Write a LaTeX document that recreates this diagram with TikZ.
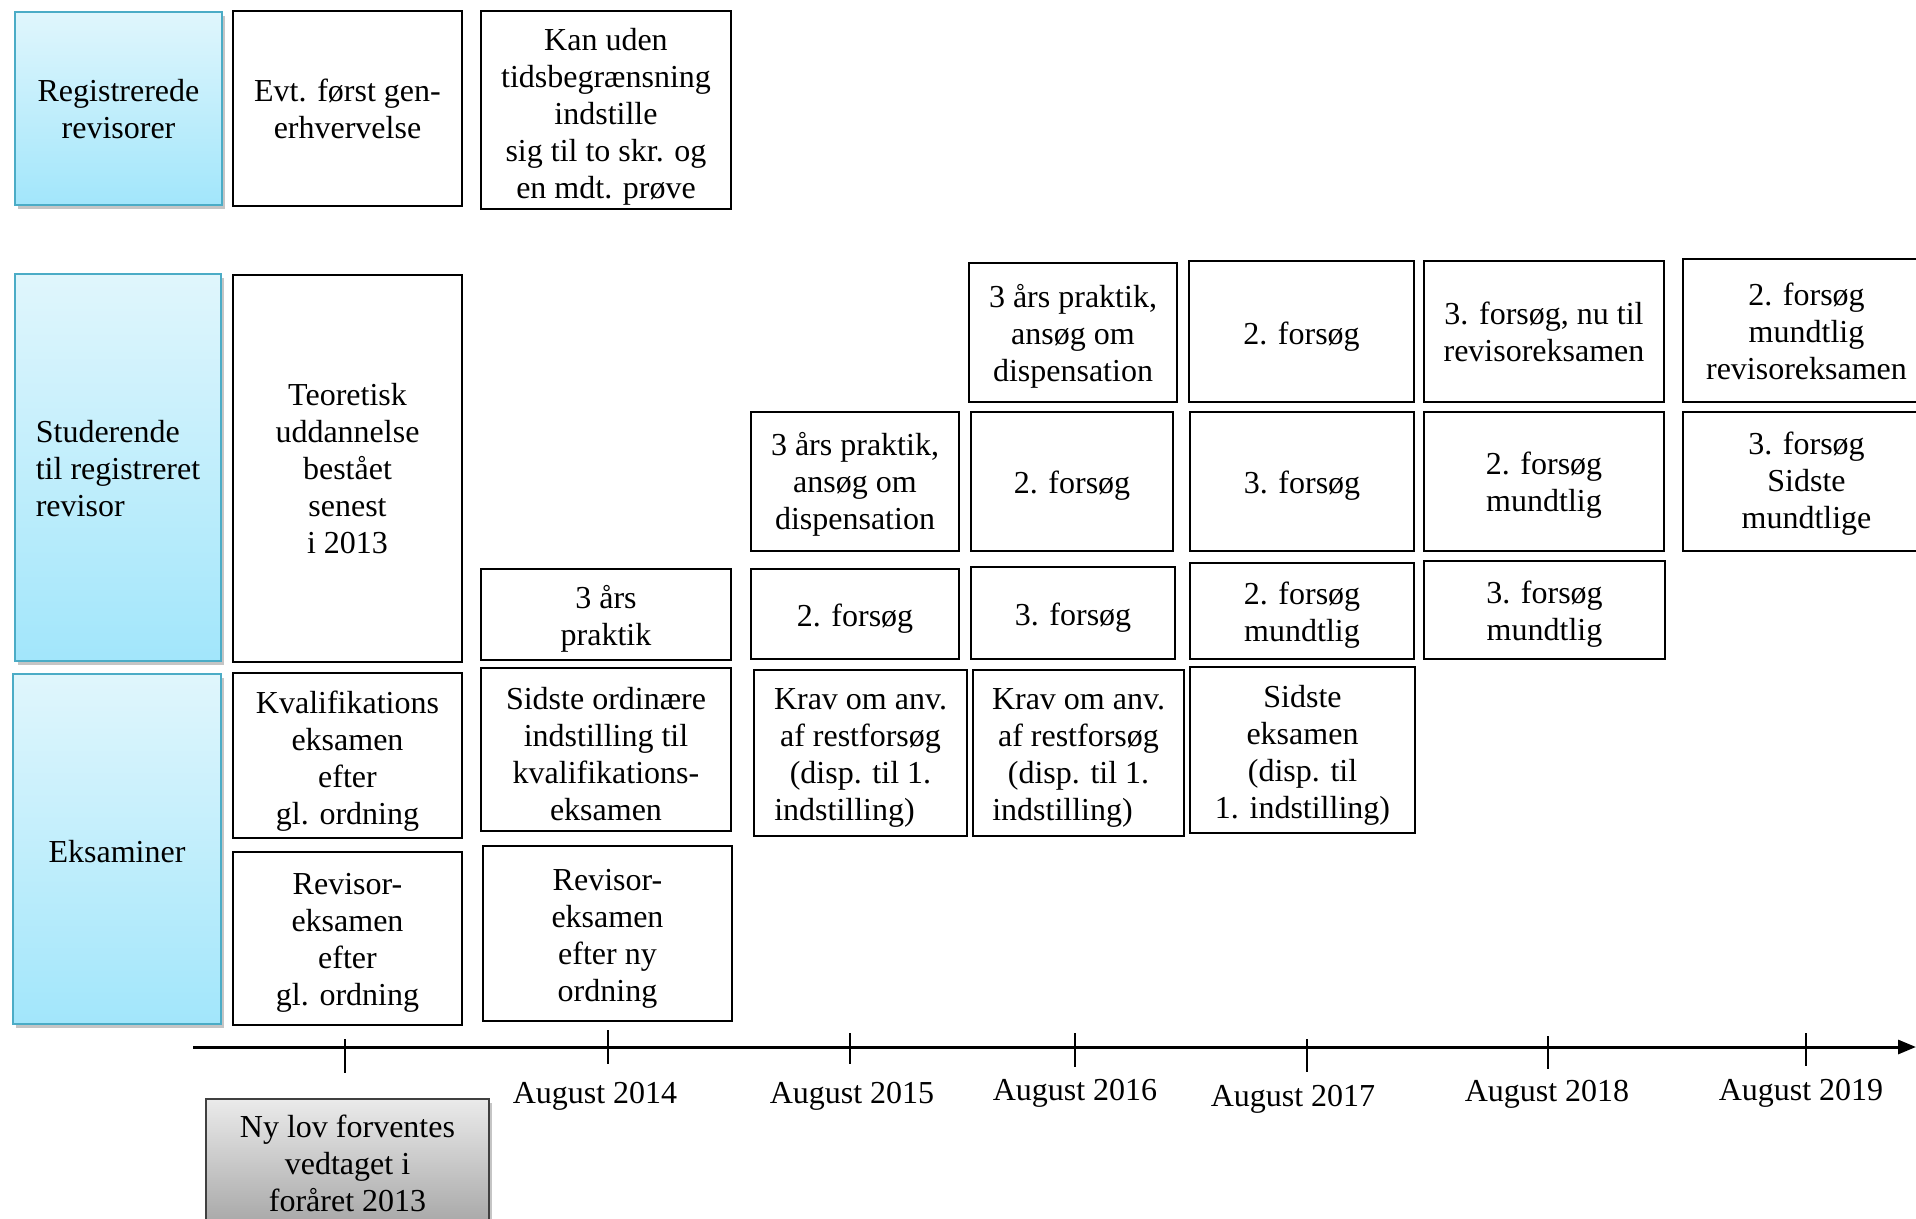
\documentclass[tikz,border=0pt]{standalone}
\usepackage{fontspec}
\setmainfont{Liberation Serif}
\usetikzlibrary{arrows.meta,shadows}
\definecolor{bluetop}{HTML}{E0F6FC}
\definecolor{bluebot}{HTML}{A2E6FB}
\definecolor{blueedge}{HTML}{4BACC6}
% #1 extra box style, #2 text shift (px, downwards), #3 name, #4-#7 corners, #8 text
\NewDocumentCommand\mybox{O{} O{4} m m m m m m}{%
  \node[box,#1, minimum width={(#6-#4)*0.5pt}, minimum height={(#7-#5)*0.5pt}] (#3) at ({(#4+#6)/2},{(#5+#7)/2}) {};
  \node[boxtext] (#3-t) at ({(#4+#6)/2},{(#5+#7)/2+#2}) {#8};}
\begin{document}
\begin{tikzpicture}[x=0.5pt,y=-0.5pt,
  box/.style={draw=black, line width=1.2pt, inner sep=0pt, fill=white},
  boxtext/.style={align=center, inner sep=0pt, font=\fontsize{16}{18.5}\selectfont},
  rowlabel/.style={draw=blueedge, line width=1pt, top color=bluetop, bottom color=bluebot,
    drop shadow={shadow xshift=1.5pt, shadow yshift=-2pt, fill=black!45, opacity=0.5}},
  greybox/.style={draw=black!75, line width=0.8pt, top color=black!8, bottom color=black!35,
    drop shadow={shadow xshift=1.5pt, shadow yshift=-2pt, fill=black!45, opacity=0.5}},
  tick/.style={line width=0.9pt},
  datelbl/.style={font=\fontsize{16}{18.5}\selectfont, inner sep=0pt}]
\useasboundingbox (0,0) rectangle (1916,1219);
% row labels
\mybox[rowlabel][1]{reg}{15}{12}{222}{205}{Registrerede\\revisorer}
\mybox[rowlabel][5]{stud}{15}{274}{221}{661}{\begin{tabular}{@{}l@{}}Studerende\\til registreret\\revisor\end{tabular}}
\mybox[rowlabel][2.5]{eks}{13}{674}{221}{1024}{Eksaminer}
% column 1
\mybox[][0]{c1a}{233}{11}{462}{206}{Evt. først gen-\\erhvervelse}
\mybox[][0]{c1b}{233}{275}{462}{662}{Teoretisk\\uddannelse\\bestået\\senest\\i 2013}
\mybox[][6]{c1c}{233}{673}{462}{838}{Kvalifikations\\eksamen\\efter\\gl. ordning}
\mybox{c1d}{233}{852}{462}{1025}{Revisor-\\eksamen\\efter\\gl. ordning}
% column 2
\mybox[][7]{c2a}{481}{11}{731}{209}{Kan uden\\tidsbegrænsning\\indstille\\sig til to skr. og\\en mdt. prøve}
\mybox{c2b}{481}{569}{731}{660}{3 års\\praktik}
\mybox[][5]{c2c}{481}{668}{731}{831}{Sidste ordinære\\indstilling til\\kvalifikations-\\eksamen}
\mybox[][5]{c2d}{483}{846}{732}{1021}{Revisor-\\eksamen\\efter ny\\ordning}
% column 3
\mybox[][2.5]{c3a}{751}{412}{959}{551}{3 års praktik,\\ansøg om\\dispensation}
\mybox[][5]{c3b}{751}{569}{959}{659}{2. forsøg}
\mybox[][5]{c3c}{754}{670}{967}{836}{Krav om anv.\\af restforsøg\\(disp. til 1.\\indstilling)\hspace*{1em}}
% column 4
\mybox{c4a}{969}{263}{1177}{402}{3 års praktik,\\ansøg om\\dispensation}
\mybox{c4b}{971}{412}{1173}{551}{2. forsøg}
\mybox[][5]{c4c}{971}{567}{1175}{659}{3. forsøg}
\mybox[][5]{c4d}{973}{670}{1184}{836}{Krav om anv.\\af restforsøg\\(disp. til 1.\\indstilling)\hspace*{1em}}
% column 5
\mybox[][5]{c5a}{1189}{261}{1414}{402}{2. forsøg}
\mybox{c5b}{1190}{412}{1414}{551}{3. forsøg}
\mybox{c5c}{1190}{563}{1414}{659}{2. forsøg\\mundtlig}
\mybox[][5]{c5d}{1190}{667}{1415}{833}{Sidste\\eksamen\\(disp. til\\1. indstilling)}
% column 6
\mybox[][0]{c6a}{1424}{261}{1664}{402}{3. forsøg, nu til\\revisoreksamen}
\mybox{c6b}{1424}{412}{1664}{551}{2. forsøg\\mundtlig}
\mybox{c6c}{1424}{561}{1665}{659}{3. forsøg\\mundtlig}
% column 7
\mybox[][1]{c7a}{1683}{259}{1930}{402}{2. forsøg\\mundtlig\\revisoreksamen}
\mybox[][2.5]{c7b}{1683}{412}{1930}{551}{3. forsøg\\Sidste\\mundtlige}
% note box
\mybox[greybox][0]{nylov}{206}{1099}{489}{1228}{Ny lov forventes\\vedtaget i\\foråret 2013}
% timeline
\coordinate (tstart) at (193,1047);
\coordinate (tend) at (1916,1047);
\draw[line width=1.5pt, -{Triangle[length=9pt,width=7pt]}] (tstart) -- (tend);
\draw[tick] (345,1039) -- (345,1073);
\draw[tick] (608,1030) -- (608,1064);
\draw[tick] (850,1033) -- (850,1064);
\draw[tick] (1075,1033) -- (1075,1067);
\draw[tick] (1307,1039) -- (1307,1072);
\draw[tick] (1548,1036) -- (1548,1069);
\draw[tick] (1806,1033) -- (1806,1066);
\node[datelbl] (d14) at (595,1096.5) {August 2014};
\node[datelbl] (d15) at (852,1096.5) {August 2015};
\node[datelbl] (d16) at (1075,1093.5) {August 2016};
\node[datelbl] (d17) at (1293,1099.5) {August 2017};
\node[datelbl] (d18) at (1547,1094.5) {August 2018};
\node[datelbl] (d19) at (1801,1093.5) {August 2019};
\end{tikzpicture}
\end{document}
